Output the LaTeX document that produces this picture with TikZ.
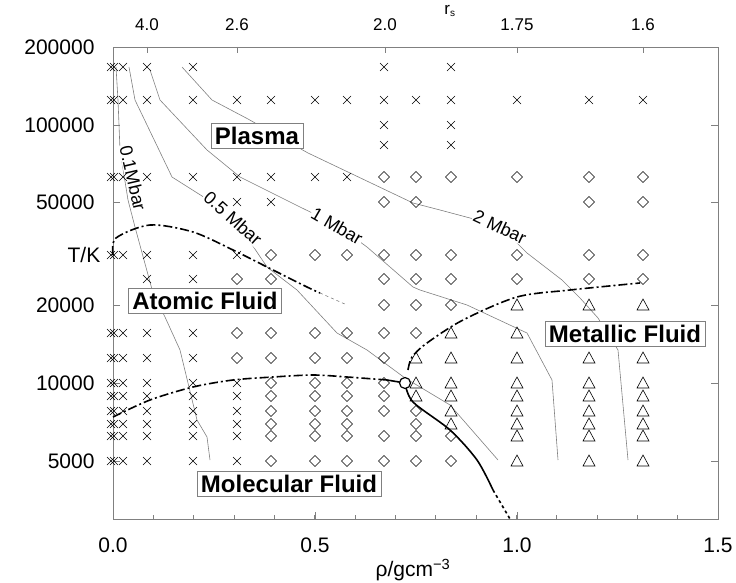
\documentclass[tikz,border=0pt]{standalone}
\usepackage{fontspec}
\setmainfont{Liberation Sans}
\usetikzlibrary{positioning}

\tikzset{
  cr/.style={black, line width=0.6pt},
  isobar/.style={gray, line width=0.6pt},
  phase/.style={black, line width=1.6pt, dash pattern=on 9pt off 3pt on 2pt off 3pt},
  region/.style={draw=gray, fill=white, line width=0.8pt, font=\bfseries\fontsize{24}{24}\selectfont, inner sep=4pt},
  barlabel/.style={fill=white, inner sep=1pt, font=\fontsize{18}{18}\selectfont},
  ticklabel/.style={font=\fontsize{21}{21}\selectfont},
  toplabel/.style={font=\fontsize{17}{17}\selectfont}
}
\newcommand{\xm}[2]{\draw[cr] (#1-4,#2-4) -- (#1+4,#2+4) (#1-4,#2+4) -- (#1+4,#2-4);}
\newcommand{\dm}[2]{\draw[cr] (#1,#2-5.5) -- (#1+5.5,#2) -- (#1,#2+5.5) -- (#1-5.5,#2) -- cycle;}
\newcommand{\tm}[2]{\draw[cr] (#1,#2-6) -- (#1+6,#2+5) -- (#1-6,#2+5) -- cycle;}

\begin{document}
\begin{tikzpicture}[x=1pt, y=-1pt]
\useasboundingbox (0,0) rectangle (736,583);

% frame
\draw[gray, line width=0.8pt] (113,47) rectangle (718,519);

% left and right ticks
\foreach \yy/\lab in {47/200000, 125/100000, 202/50000, 305/20000, 383/10000, 461/5000}{
  \draw[gray, line width=0.6pt] (113,\yy) -- (120,\yy);
  \draw[gray, line width=0.6pt] (718,\yy) -- (711,\yy);
  \node[ticklabel, anchor=east] at (98,\yy) {\lab};
}
\node[ticklabel] (ylab) at (84,255) {T/K};

% bottom ticks
\foreach \i in {1,...,14}{
  \draw[gray, line width=0.6pt] (113+40.33*\i,519) -- (113+40.33*\i,515);
}
\foreach \xx/\lab in {113/0.0, 315/0.5, 517/1.0, 718/1.5}{
  \draw[gray, line width=0.6pt] (\xx,519) -- (\xx,512);
  \node[ticklabel] at (\xx,545) {\lab};
}
\node[ticklabel] (xlab) at (413,570) {ρ/gcm\textsuperscript{−3}};

% top axis r_s
\foreach \xx/\lab in {147/4.0, 237/2.6, 385/2.0, 517/1.75, 643/1.6}{
  \draw[gray, line width=0.6pt] (\xx,47) -- (\xx,53);
  \node[toplabel] at (\xx,25) {\lab};
}
\node[toplabel] (rslab) at (450,11) {r\textsubscript{\fontsize{10}{10}\selectfont s}};

% isobars
\draw[isobar] (116,67) -- (118,100) -- (120,150) -- (128,200) -- (135,227) -- (153,293)
  -- (165,317) -- (180,350) -- (188,383) -- (197,420) -- (207,437) -- (210,460);
\draw[isobar] (129,67) -- (135,100) -- (172,177) -- (232,215) -- (267,267) -- (297,290)
  -- (337,333) -- (367,350) -- (405,378) -- (450,405) -- (498,460);
\draw[isobar] (150,70) -- (160,100) -- (207,150) -- (240,177) -- (300,207) -- (337,225)
  -- (367,247) -- (413,287) -- (420,290) -- (467,305) -- (527,333) -- (552,380) -- (558,460);
\draw[isobar] (182,67) -- (212,100) -- (248,119) -- (308,153) -- (413,203) -- (440,210)
  -- (500,226) -- (527,253) -- (562,280) -- (580,298) -- (598,318) -- (618,350) -- (628,460);

% isobar labels
\node[barlabel, rotate=-77] (p01) at (133,178) {0.1Mbar};
\node[barlabel, rotate=-42] (p05) at (233,218) {0.5 Mbar};
\node[barlabel, rotate=-30] (p1) at (337,226) {1 Mbar};
\node[barlabel, rotate=-25] (p2) at (500,227) {2 Mbar};

% data points
\foreach \yy/\xl/\dl/\tl in {
  67/{111,114,123,147,193,384,451}/{}/{},
  100/{111,114,123,147,193,237,271,315,347,384,416,451,517,589,643}/{}/{},
  125/{384,451}/{}/{},
  145/{384,451}/{}/{},
  177/{111,114,123,147,193,237,271,315,347}/{384,416,451,517,589,643}/{},
  202/{237,271}/{384,416,589,643}/{},
  255/{111,114,123,147,193,237}/{271,315,347,384,416,451,517,589,643}/{},
  279/{147,193}/{237,271,384,416,451,517,589,643}/{},
  305/{}/{384,416,451}/{517,589,643},
  333/{111,114,123,147,193}/{237,271,315,347,384,416}/{451,517,589,643},
  358/{111,114,123,147,193}/{237,271,315,347,384}/{416,451,517,589,643},
  383/{111,114,123,147,193,237}/{271,315,347,384}/{416,451,517,589,643},
  396/{111,114,123,147,193,237}/{271,315,347,384}/{416,451,517,589,643},
  411/{111,114,123,147,193,237}/{271,315,347,384,416}/{451,517,589,643},
  424/{111,114,123,147,193,237}/{271,315,347,416}/{451,517,589,643},
  436/{111,114,123,147,193,237}/{271,315,347,384,416,451}/{517,589,643},
  461/{111,114,123,147,193,237}/{271,315,347,384,416,451}/{517,589,643}}{
  \foreach \xx in \xl {\xm{\xx}{\yy}}
  \foreach \xx in \dl {\dm{\xx}{\yy}}
  \foreach \xx in \tl {\tm{\xx}{\yy}}
}

% phase boundaries
\draw[phase] plot[smooth] coordinates {(113,255) (116,238) (150,225) (193,232) (233,250) (267,267) (307,287) (320,293)};
\draw[gray, line width=0.6pt, dashed] (320,293) -- (347,305);
\draw[phase] plot[smooth] coordinates {(113,417) (150,400) (193,387) (233,380) (273,377) (313,375) (347,377) (387,380)};
\draw[phase] plot[smooth] coordinates {(408,370) (412,357) (427,343) (463,320) (517,297) (570,290) (640,283)};
\draw[black, line width=1.6pt] (387,380) -- (405,383);
\draw[black, line width=1.6pt] plot[smooth] coordinates {(405,383) (413,402) (450,430) (477,460) (493,490)};
\draw[black, line width=1.6pt, dashed] (493,490) -- (510,519);
\node[circle, draw=black, fill=white, line width=1.2pt, minimum size=11pt, inner sep=0pt] (crit) at (405,383) {};

% region labels
\node[region] (plasma) at (257,136) {Plasma};
\node[region] (atomic) at (205,301) {Atomic Fluid};
\node[region] (molec) at (289,484) {Molecular Fluid};
\node[region] (metal) at (625,334) {Metallic Fluid};
\end{tikzpicture}
\end{document}
